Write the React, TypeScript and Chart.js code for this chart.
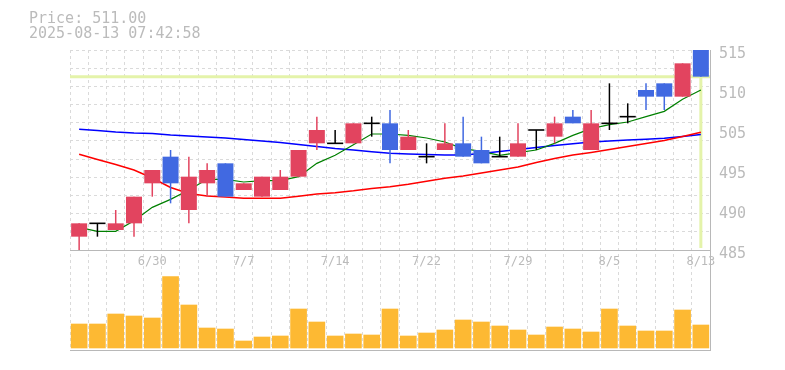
import { useEffect, useRef } from 'react';
import { Chart, registerables } from 'chart.js';

Chart.register(...registerables);

const DATES = ['6/24', '6/25', '6/26', '6/27', '6/30', '7/1', '7/2', '7/3', '7/4', '7/7', '7/8', '7/9', '7/10', '7/11', '7/14', '7/15', '7/16', '7/17', '7/18', '7/22', '7/23', '7/24', '7/25', '7/28', '7/29', '7/30', '7/31', '8/1', '8/4', '8/5', '8/6', '8/7', '8/8', '8/12', '8/13'];
const SHOWN_DATES = ['6/30', '7/7', '7/14', '7/22', '7/29', '8/5', '8/13'];

const OPEN = [487, 489, 488, 489, 495, 499, 491, 495, 498, 494, 493, 494, 496, 501, 501, 501, 504, 504, 500, 499, 500, 501, 500, 499, 499, 503, 502, 505, 500, 504, 505, 509, 510, 508, 515];
const HIGH = [489, 489, 491, 493, 497, 500, 499, 498, 498, 495, 496, 497, 500, 505, 503, 504, 505, 506, 503, 501, 504, 505, 502, 502, 504, 503, 505, 506, 506, 510, 507, 510, 510, 513, 515];
const LOW = [485, 487, 488, 487, 493, 492, 489, 493, 493, 494, 493, 494, 496, 500, 501, 501, 502, 498, 500, 498, 500, 499, 498, 499, 499, 500, 501, 504, 500, 503, 504, 506, 506, 508, 511];
const CLOSE = [489, 489, 489, 493, 497, 495, 496, 497, 493, 495, 496, 496, 500, 503, 501, 504, 504, 500, 502, 499, 501, 499, 498, 499, 501, 503, 504, 504, 504, 504, 505, 508, 508, 513, 511];

const MA_SHORT = [488.4, 487.8, 487.8, 489.4, 491.4, 492.6, 494.0, 495.6, 495.6, 495.2, 495.4, 495.4, 496.0, 498.0, 499.2, 500.8, 502.4, 502.4, 502.2, 501.8, 501.2, 500.2, 499.8, 499.2, 499.6, 500.0, 501.0, 502.2, 503.2, 503.8, 504.2, 505.0, 505.8, 507.6, 509.0];
const MA_MID = [499.36, 498.58, 497.83, 497.0, 495.8, 494.38, 493.48, 493.1, 492.95, 492.76, 492.76, 492.76, 493.06, 493.4, 493.6, 493.88, 494.23, 494.5, 494.87, 495.32, 495.76, 496.1, 496.55, 497.0, 497.45, 498.13, 498.73, 499.25, 499.64, 500.08, 500.53, 500.98, 501.43, 502.03, 502.66];
const MA_LONG = [503.1, 502.93, 502.7, 502.55, 502.48, 502.25, 502.1, 501.95, 501.8, 501.58, 501.35, 501.13, 500.83, 500.53, 500.23, 500.0, 499.73, 499.5, 499.4, 499.33, 499.25, 499.25, 499.48, 499.78, 500.08, 500.38, 500.68, 500.93, 501.2, 501.35, 501.5, 501.6, 501.75, 502.03, 502.33];

const VOLUME = [7200, 7200, 10200, 9600, 9000, 21400, 12900, 6000, 5700, 2100, 3300, 3600, 11700, 7800, 3600, 4200, 3900, 11700, 3600, 4500, 5400, 8400, 7800, 6600, 5400, 3900, 6300, 5700, 4800, 11700, 6600, 5100, 5100, 11400, 6900];

const CURRENT_PRICE = 511;
const TIMESTAMP = '2025-08-13 07:42:58';

const PRICE_TOP = 515;
const PRICE_BOTTOM = 485;
const Y_TICK_LABELS = ['515', '510', '505', '495', '490', '485'];
const GRID_ROWS = 11;
const VOLUME_MIN = -600;
const VOLUME_MAX = 89400;

const FONT = "'DejaVu Sans Mono', monospace";
const TEXT_COLOR = '#bbbbbb';
const GRID_COLOR = '#dadada';
const BORDER_COLOR = '#b8b8b8';
const UP_COLOR = '#e2445f';
const DOWN_COLOR = '#4169e1';
const CROSS_COLOR = '#e4f3aa';

const near = (a: number, b: number) => Math.abs(a - b) < 1e-6;
const PRICE_SPAN = PRICE_TOP - PRICE_BOTTOM;
const PRICE_AXIS_MIN = PRICE_BOTTOM - PRICE_SPAN / 2;
const LABEL_VALUES = Y_TICK_LABELS.map((_, i) => PRICE_TOP - (i * PRICE_SPAN) / (Y_TICK_LABELS.length - 1));
const GRID_VALUES = Array.from({ length: GRID_ROWS + 1 }, (_, k) => PRICE_BOTTOM + (k * PRICE_SPAN) / GRID_ROWS);
const SOLID_VALUES = [PRICE_AXIS_MIN, PRICE_BOTTOM];

const isSolid = (v: number) => SOLID_VALUES.some((s) => near(s, v));
const isGrid = (v: number) => GRID_VALUES.some((s) => near(s, v));

export default function App() {
  const ref = useRef<HTMLCanvasElement>(null);

  useEffect(() => {
    const canvas = ref.current;
    if (!canvas) return;

    const isDoji = (i: number) => OPEN[i] === CLOSE[i];
    const candleColor = (i: number) => (isDoji(i) ? '#000000' : CLOSE[i] > OPEN[i] ? UP_COLOR : DOWN_COLOR);

    const tickValues: number[] = [];
    [...GRID_VALUES, ...LABEL_VALUES, ...SOLID_VALUES].forEach((v) => {
      if (!tickValues.some((t) => near(t, v))) tickValues.push(v);
    });
    tickValues.sort((a, b) => a - b);

    const last = DATES.length - 1;

    const chart = new Chart(canvas, {
      type: 'bar',
      data: {
        labels: DATES,
        datasets: [
          {
            type: 'bar',
            label: 'doji',
            data: DATES.map((_, i) => (isDoji(i) ? [OPEN[i], CLOSE[i]] : null)) as any,
            backgroundColor: '#000000',
            barThickness: 14.5,
            inflateAmount: 0.8,
            grouped: false,
            order: 1,
          } as any,
          {
            type: 'bar',
            label: 'body',
            data: DATES.map((_, i) => (isDoji(i) ? null : [OPEN[i], CLOSE[i]])) as any,
            backgroundColor: DATES.map((_, i) => candleColor(i)),
            barThickness: 16,
            inflateAmount: 0,
            grouped: false,
            order: 2,
          } as any,
          {
            type: 'bar',
            label: 'wick',
            data: DATES.map((_, i) => [LOW[i], HIGH[i]]) as any,
            backgroundColor: DATES.map((_, i) => candleColor(i)),
            barThickness: 1.5,
            inflateAmount: 0,
            grouped: false,
            order: 3,
          } as any,
          {
            type: 'line',
            label: 'ma5',
            data: MA_SHORT,
            borderColor: '#008000',
            borderWidth: 1.2,
            pointRadius: 0,
            tension: 0,
            order: 4,
          },
          {
            type: 'line',
            label: 'ma25',
            data: MA_MID,
            borderColor: '#ff0000',
            borderWidth: 1.5,
            pointRadius: 0,
            tension: 0,
            order: 5,
          },
          {
            type: 'line',
            label: 'ma75',
            data: MA_LONG,
            borderColor: '#0000ff',
            borderWidth: 1.5,
            pointRadius: 0,
            tension: 0,
            order: 6,
          },
          {
            type: 'bar',
            label: 'volume',
            data: VOLUME,
            yAxisID: 'yv',
            backgroundColor: '#fdb933',
            barThickness: 16,
            grouped: false,
            order: 7,
          } as any,
          {
            type: 'line',
            label: 'priceLine',
            xAxisID: 'xl',
            data: [
              { x: -0.5, y: CURRENT_PRICE },
              { x: last + 0.5, y: CURRENT_PRICE },
            ],
            borderColor: CROSS_COLOR,
            borderWidth: 3,
            pointRadius: 0,
            order: 8,
          } as any,
          {
            type: 'line',
            label: 'timeLine',
            xAxisID: 'xl',
            data: [
              { x: last, y: CURRENT_PRICE },
              { x: last, y: PRICE_BOTTOM + 0.3 },
            ],
            borderColor: CROSS_COLOR,
            borderWidth: 3,
            pointRadius: 0,
            order: 8,
          } as any,
        ],
      },
      options: {
        animation: false,
        responsive: false,
        devicePixelRatio: 1,
        layout: { padding: { left: 70, top: 50, right: 15, bottom: 20 } },
        plugins: { legend: { display: false }, tooltip: { enabled: false }, title: { display: false } },
        scales: {
          x: {
            type: 'category',
            offset: true,
            position: { y: PRICE_BOTTOM } as any,
            grid: { offset: true, color: GRID_COLOR, lineWidth: 1, drawTicks: false },
            border: { display: false, dash: [3, 3] },
            ticks: {
              autoSkip: false,
              maxRotation: 0,
              minRotation: 0,
              padding: 5,
              color: TEXT_COLOR,
              font: { family: FONT, size: 12 },
              callback: (_v: any, i: number) => (SHOWN_DATES.includes(DATES[i]) ? DATES[i] : ''),
            },
          },
          xl: {
            type: 'linear',
            position: 'bottom',
            display: false,
            offset: false,
            grace: 0,
            bounds: 'ticks',
            min: -0.5,
            max: last + 0.5,
          },
          y: {
            type: 'linear',
            position: 'right',
            min: PRICE_AXIS_MIN,
            max: PRICE_TOP,
            afterBuildTicks: (scale: any) => {
              scale.ticks = tickValues.map((v) => ({ value: v }));
            },
            afterFit: (scale: any) => {
              scale.width = 60;
            },
            grid: {
              drawTicks: false,
              lineWidth: 1,
              color: (ctx: any) => {
                const v = ctx.tick ? ctx.tick.value : NaN;
                if (isSolid(v)) return BORDER_COLOR;
                if (isGrid(v)) return GRID_COLOR;
                return 'rgba(0,0,0,0)';
              },
            },
            border: {
              display: true,
              color: BORDER_COLOR,
              width: 1,
              dash: (ctx: any) => (ctx.tick && isSolid(ctx.tick.value) ? [] : [3, 3]),
            } as any,
            ticks: {
              autoSkip: false,
              padding: 9,
              labelOffset: 4,
              color: TEXT_COLOR,
              font: { family: FONT, size: 15 },
              callback: (v: any) => {
                const idx = LABEL_VALUES.findIndex((l) => near(l, Number(v)));
                return idx >= 0 ? Y_TICK_LABELS[idx] : '';
              },
            },
          },
          yv: {
            type: 'linear',
            position: 'left',
            display: false,
            min: VOLUME_MIN,
            max: VOLUME_MAX,
          },
        },
      } as any,
    });

    return () => chart.destroy();
  }, []);

  return (
    <div style={{ position: 'fixed', left: 0, top: 0, width: 785, height: 370, background: '#ffffff' }}>
      <canvas ref={ref} width={785} height={370} style={{ display: 'block' }} />
      <div
        style={{
          position: 'absolute',
          left: 29,
          top: 10.5,
          font: `15px/15px ${FONT}`,
          color: TEXT_COLOR,
          whiteSpace: 'pre',
        }}
      >
        <div>{`Price: ${CURRENT_PRICE.toFixed(2)}`}</div>
        <div>{TIMESTAMP}</div>
      </div>
    </div>
  );
}
